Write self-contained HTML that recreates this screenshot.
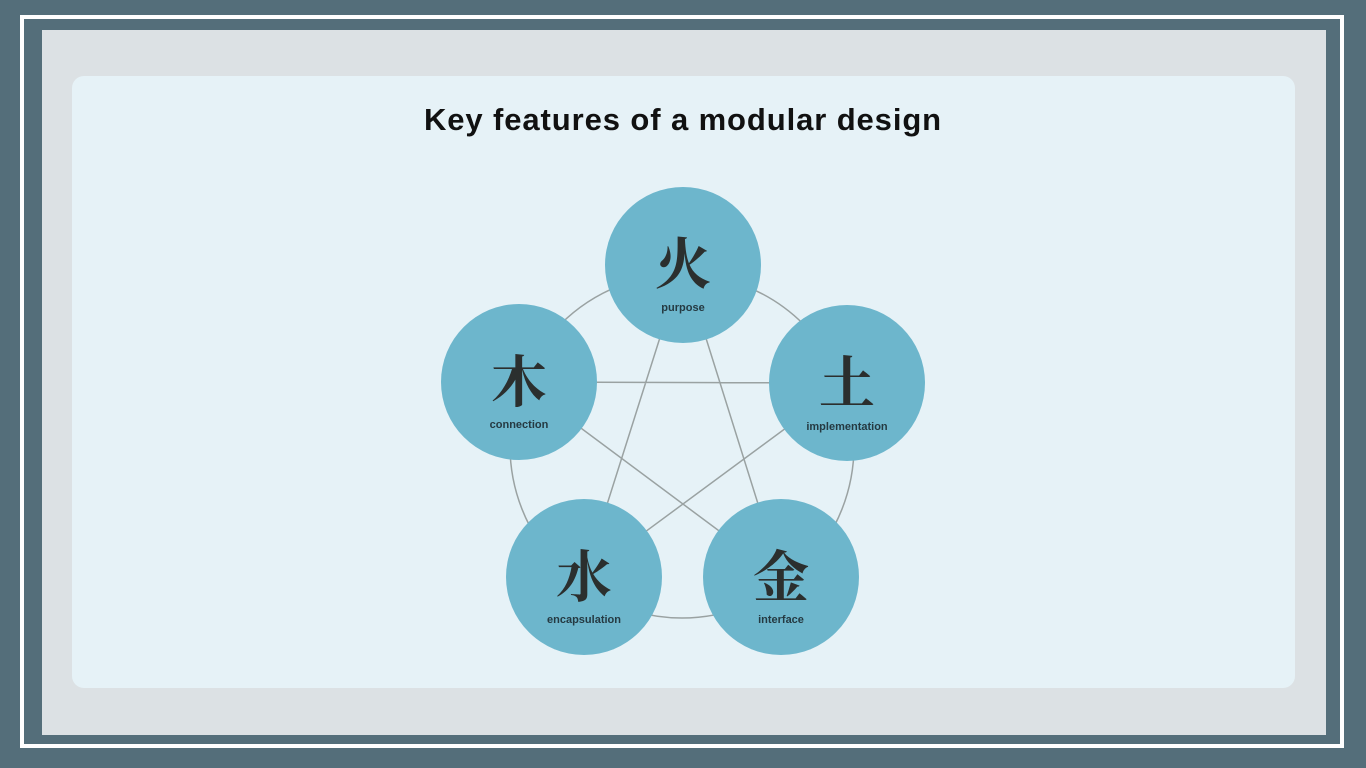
<!DOCTYPE html>
<html><head><meta charset="utf-8"><style>
html,body{margin:0;padding:0}
body{width:1366px;height:768px;background:#546e7a;position:relative;overflow:hidden;font-family:"Liberation Sans",sans-serif}
.frame{position:absolute;left:20px;top:15px;width:1316px;height:725px;border:4px solid #fff;background:#546e7a}
.inner{position:absolute;left:42px;top:30px;width:1284px;height:705px;background:#dce1e4}
.card{position:absolute;left:72px;top:76px;width:1223px;height:612px;background:#e6f2f7;border-radius:12px}
h1{position:absolute;left:0;top:102px;width:1366px;text-align:center;margin:0;font-size:31px;font-weight:bold;color:#111;letter-spacing:0.9px}
svg{position:absolute;left:0;top:0}
</style></head><body>
<div class="frame"></div>
<div class="inner"></div>
<div class="card"></div>
<h1>Key features of a modular design</h1>
<svg width="1366" height="768">
<g stroke="#9aa2a2" stroke-width="1.5" fill="none">
<circle cx="682" cy="446" r="172"/>
<polyline points="683,265 584,577 847,383 519,382 781,577 683,265"/>
</g>
<g fill="#6db6cc">
<circle cx="683" cy="265" r="78"/>
<circle cx="519" cy="382" r="78"/>
<circle cx="847" cy="383" r="78"/>
<circle cx="584" cy="577" r="78"/>
<circle cx="781" cy="577" r="78"/>
</g>
<g font-family="'Noto Serif CJK SC','Noto Serif CJK JP',serif" font-size="56" font-weight="bold" fill="#2b2f2e" text-anchor="middle">
<text x="683" y="284">火</text>
<text x="519" y="402">木</text>
<text x="847" y="403">土</text>
<text x="584" y="597">水</text>
<text x="781" y="597">金</text>
</g>
<g font-family="'Liberation Sans',sans-serif" font-size="11" font-weight="bold" fill="#253a42" text-anchor="middle">
<text x="683" y="311">purpose</text>
<text x="519" y="428">connection</text>
<text x="847" y="430">implementation</text>
<text x="584" y="623">encapsulation</text>
<text x="781" y="623">interface</text>
</g>
</svg>
</body></html>
